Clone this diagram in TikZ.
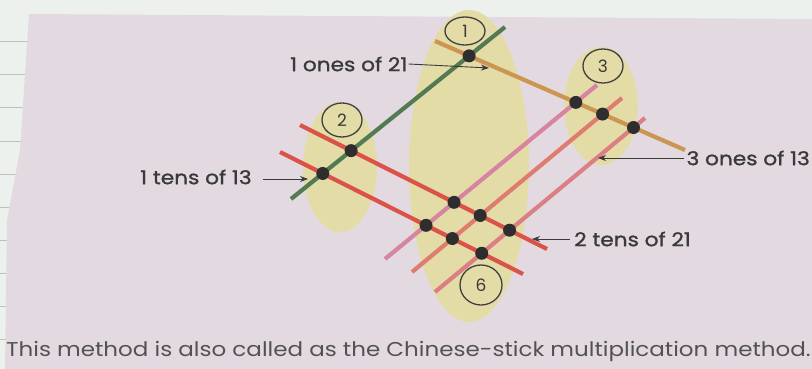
\documentclass[tikz,border=0pt]{standalone}
\usepackage{fontspec}
\setmainfont{Poppins}
\newfontfamily\pointfont{Poppins}[FakeStretch=1.14, FakeBold=1.2]
\newfontfamily\remarkfont{Poppins}[FakeStretch=1.15]
\usetikzlibrary{positioning,arrows.meta,shapes.geometric}
\definecolor{pagepink}{RGB}{226,218,224}
\definecolor{stripwhite}{RGB}{236,241,238}
\definecolor{zoneyellow}{RGB}{228,220,166}
\definecolor{stickgreen}{RGB}{84,122,84}
\definecolor{stickorange}{RGB}{204,150,82}
\definecolor{stickred}{RGB}{218,82,72}
\definecolor{stickpink}{RGB}{214,132,162}
\definecolor{sticksalmon}{RGB}{222,124,112}
\definecolor{inkgray}{RGB}{58,58,58}
\tikzset{
  stick/.style={line width=4.2pt},
  zone/.style={fill=zoneyellow, draw=none},
  crossdot/.style={circle, fill=black!82, minimum size=13pt, inner sep=0pt},
  numnode/.style={ellipse, draw=black!75, line width=1.3pt, minimum width=40pt, minimum height=34pt, inner sep=0pt, font=\fontsize{17}{17}\selectfont, text=inkgray},
  labelnode/.style={font=\pointfont\fontsize{19}{19}\selectfont, text=inkgray, inner sep=0pt},
  pointarrow/.style={-{Stealth[length=8pt,width=6pt]}, line width=0.9pt, inkgray}
}

\begin{document}
\begin{tikzpicture}[x=1pt, y=-1pt]
  \useasboundingbox (0,0) rectangle (812,369);
  % page and notebook strip
  \fill[stripwhite] (0,0) rectangle (812,369);
  \foreach \yy in {42,75,108,141,174,207,240,273,306,339}
    \draw[gray!50, line width=1pt] (0,\yy) -- (30,\yy);
  \fill[pagepink] (29,14) -- (812,19) -- (812,369) -- (5,369) -- (7,220) -- (20,150) -- cycle;

  % yellow zones
  \fill[zone] (469,166) ellipse [x radius=60, y radius=156];
  \fill[zone] (340,167) ellipse [x radius=37, y radius=65];
  \fill[zone] (601,106) ellipse [x radius=37, y radius=59];

  % sticks
  \coordinate (a1) at (385,259); \coordinate (a2) at (597,85);
  \coordinate (b1) at (412,272); \coordinate (b2) at (622,98);
  \coordinate (c1) at (435,292); \coordinate (c2) at (645,118);
  \coordinate (r1) at (300,125); \coordinate (r2) at (547,249);
  \coordinate (s1) at (280,152); \coordinate (s2) at (523,274);
  \coordinate (o1) at (435,41);  \coordinate (o2) at (685,150);
  \coordinate (g1) at (291,199); \coordinate (g2) at (505,27);
  \draw[stick, stickpink] (a1) -- (a2);
  \draw[stick, sticksalmon] (b1) -- (b2);
  \draw[stick, sticksalmon!60!stickpink] (c1) -- (c2);
  \draw[stick, stickred] (r1) -- (r2);
  \draw[stick, stickred] (s1) -- (s2);
  \draw[stick, stickorange] (o1) -- (o2);
  \draw[stick, stickgreen] (g1) -- (g2);

  % crossing points
  \node[crossdot] (dg1) at (intersection of g1--g2 and o1--o2) {};
  \node[crossdot] (dg2) at (intersection of g1--g2 and r1--r2) {};
  \node[crossdot] (dg3) at (intersection of g1--g2 and s1--s2) {};
  \node[crossdot] (do1) at (intersection of a1--a2 and o1--o2) {};
  \node[crossdot] (do2) at (intersection of b1--b2 and o1--o2) {};
  \node[crossdot] (do3) at (intersection of c1--c2 and o1--o2) {};
  \node[crossdot] (dr1) at (intersection of a1--a2 and r1--r2) {};
  \node[crossdot] (dr2) at (intersection of b1--b2 and r1--r2) {};
  \node[crossdot] (dr3) at (intersection of c1--c2 and r1--r2) {};
  \node[crossdot] (ds1) at (intersection of a1--a2 and s1--s2) {};
  \node[crossdot] (ds2) at (intersection of b1--b2 and s1--s2) {};
  \node[crossdot] (ds3) at (intersection of c1--c2 and s1--s2) {};

  % place values
  \node[numnode, minimum height=28pt] (n1) at (465,31) {1};
  \node[numnode] (n2) at (342,120) {2};
  \node[numnode] (n3) at (603,66) {3};
  \node[numnode, minimum width=42pt, minimum height=40pt] (n6) at (481,285) {6};

  % labels
  \node[labelnode, anchor=west] (onesb) at (290,64) {1 ones of 21};
  \coordinate (onesbtip) at (489,68);
  \draw[pointarrow] ([xshift=1pt]onesb.east) -- (onesbtip);
  \node[labelnode, anchor=west] (tensa) at (140,177) {1 tens of 13};
  \coordinate (tensatip) at (308,179);
  \draw[pointarrow] ([xshift=11pt, yshift=-2pt]tensa.east) -- (tensatip);
  \node[labelnode, anchor=east] (onesa) at (810,158) {3 ones of 13};
  \coordinate (onesatip) at (598,158);
  \draw[pointarrow] ([xshift=-2pt]onesa.west) -- (onesatip);
  \node[labelnode, anchor=west] (tensb) at (574,239) {2 tens of 21};
  \coordinate (tensbtip) at (532,239);
  \draw[pointarrow] ([xshift=-4pt]tensb.west) -- (tensbtip);

  \node[labelnode, anchor=west, font=\remarkfont\fontsize{20}{20}\selectfont, text=black!68] (caption) at (6,351)
    {This method is also called as the Chinese-stick multiplication method.};
\end{tikzpicture}
\end{document}
